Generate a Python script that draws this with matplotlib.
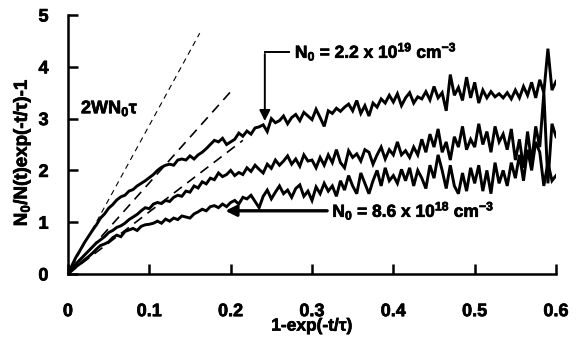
import numpy as np
import matplotlib
matplotlib.use('Agg')
from matplotlib import pyplot as plt
from matplotlib import patheffects as pe

# fonts: bold arial-like everywhere
plt.rcParams['font.family'] = ['Liberation Sans', 'DejaVu Sans']
plt.rcParams['font.weight'] = 'bold'
plt.rcParams['mathtext.fontset'] = 'custom'
plt.rcParams['mathtext.rm'] = 'Liberation Sans:bold'
plt.rcParams['mathtext.it'] = 'Liberation Sans:bold'
plt.rcParams['mathtext.bf'] = 'Liberation Sans:bold'

# x values, every 0.005 from 0 to 0.6
x_vals = [round(0.005 * i, 3) for i in range(121)]

# N0 = 2.2e19 (upper curve)
y_high = [0.00, 0.17, 0.33, 0.46, 0.60, 0.72, 0.84, 0.95, 1.08, 1.16,
          1.27, 1.34, 1.43, 1.49, 1.52, 1.60, 1.63, 1.70, 1.75, 1.80,
          1.86, 1.92, 2.00, 2.06, 2.10, 2.12, 2.10, 2.20, 2.22, 2.20,
          2.28, 2.22, 2.30, 2.35, 2.42, 2.50, 2.58, 2.55, 2.62, 2.50,
          2.55, 2.60, 2.72, 2.66, 2.76, 2.70, 2.82, 2.84, 2.88, 2.75,
          3.00, 2.92, 2.96, 3.05, 2.90, 3.02, 3.08, 2.96, 3.12, 3.05,
          2.98, 3.18, 3.02, 2.85, 3.15, 3.10, 3.20, 3.14, 3.22, 3.28,
          3.15, 3.35, 3.10, 3.25, 3.05, 3.30, 3.22, 3.38, 3.30, 3.45,
          3.32, 3.48, 3.25, 3.40, 3.50, 3.30, 3.42, 3.38, 3.52, 3.36,
          3.62, 3.40, 3.50, 3.15, 3.85, 3.45, 3.60, 3.35, 3.80, 3.40,
          3.70, 3.30, 3.55, 3.40, 3.52, 3.42, 3.48, 3.40, 3.50, 3.38,
          3.55, 3.40, 3.62, 3.45, 3.70, 3.40, 3.75, 3.50, 4.35, 3.55,
          3.72]

# middle curve
y_mid = [0.00, 0.10, 0.20, 0.28, 0.36, 0.44, 0.52, 0.60, 0.66, 0.72,
         0.80, 0.84, 0.90, 0.93, 0.98, 1.05, 1.10, 1.15, 1.22, 1.28,
         1.26, 1.35, 1.38, 1.36, 1.42, 1.40, 1.48, 1.52, 1.50, 1.60,
         1.58, 1.70, 1.66, 1.78, 1.74, 1.85, 1.82, 1.95, 1.88, 1.92,
         2.00, 1.90, 1.96, 1.92, 2.05, 1.98, 2.10, 2.02, 1.95, 2.12,
         2.04, 2.20, 2.10, 2.18, 2.28, 2.12, 2.22, 2.08, 2.30, 2.18,
         2.20, 2.05, 2.25, 2.10, 2.30, 2.15, 2.40, 2.15, 2.05, 2.38,
         2.25, 2.32, 2.18, 2.40, 2.35, 2.12, 2.30, 2.45, 2.22, 2.40,
         2.30, 2.55, 2.30, 2.38, 2.25, 2.45, 2.30, 2.60, 2.35, 2.70,
         2.45, 2.80, 2.35, 2.55, 2.20, 2.65, 2.45, 2.85, 2.40, 2.60,
         2.45, 2.90, 2.50, 2.75, 2.35, 2.85, 2.55, 2.70, 2.40, 2.80,
         2.20, 2.60, 2.05, 2.75, 2.15, 2.85, 2.45, 3.50, 1.75, 2.90,
         2.65]

# N0 = 8.6e18 (lower curve)
y_low = [0.00, 0.07, 0.14, 0.20, 0.27, 0.33, 0.40, 0.48, 0.55, 0.58,
         0.62, 0.70, 0.75, 0.72, 0.82, 0.85, 0.88, 0.84, 0.92, 0.95,
         0.96, 0.98, 1.02, 0.98, 1.06, 1.02, 1.08, 1.05, 1.12, 1.10,
         1.08, 1.16, 1.20, 1.25, 1.22, 1.30, 1.32, 1.28, 1.35, 1.30,
         1.38, 1.42, 1.35, 1.48, 1.45, 1.52, 1.40, 1.28, 1.50, 1.62,
         1.45, 1.58, 1.70, 1.55, 1.62, 1.48, 1.65, 1.72, 1.50, 1.60,
         1.42, 1.68, 1.55, 1.75, 1.60, 1.70, 1.50, 1.80, 1.62, 1.90,
         1.70, 1.55, 1.95, 1.75, 1.55, 1.80, 2.00, 1.70, 2.05, 1.80,
         1.90, 1.75, 2.02, 1.80, 2.05, 1.70, 2.00, 1.85, 1.65, 2.10,
         1.85, 2.30, 2.00, 1.65, 2.10, 1.70, 1.55, 1.95, 1.60, 2.05,
         1.75, 2.10, 1.60, 2.00, 1.55, 2.15, 1.75, 2.00, 1.70, 2.15,
         1.85, 2.30, 1.80, 2.40, 2.00, 2.55, 2.35, 1.70, 2.15, 1.80,
         1.90]

# dashed guide lines 2WN0tau: slope and end point
guide_slopes = [28.7, 17.6, 12.0]
guide_ends = [0.162, 0.202, 0.215]

fig = plt.figure(figsize=(5.78, 3.41), dpi=100)
ax = fig.add_axes([0.1176, 0.1965, 0.8444, 0.7595])

# slightly heavier text, like the scanned original
heavy = [pe.withStroke(linewidth=0.5, foreground='k')]

# dashed lines
for i in range(len(guide_slopes)):
    gx = np.array([0, guide_ends[i]])
    if i == 0:
        ax.plot(gx, guide_slopes[i] * gx, color='k', lw=0.8, dashes=(5, 4))
    else:
        ax.plot(gx, guide_slopes[i] * gx, color='k', lw=1.2, dashes=(6, 4))

# noisy curves
for yy in [y_high, y_mid, y_low]:
    ax.plot(x_vals, yy, color='k', lw=2.1, solid_joinstyle='miter')

# annotations
ax.plot([0.242, 0.272], [4.29, 4.29], color='k', lw=1.4)
ax.annotate('', xy=(0.242, 2.90), xytext=(0.242, 4.30),
            arrowprops=dict(arrowstyle='-|>', color='k', lw=1.4, mutation_scale=16))
ax.text(0.279, 4.29, 'N$_0$ = 2.2 x 10$^{19}$ cm$^{-3}$', fontsize=12.5,
        fontweight='bold', va='center', ha='left', path_effects=heavy)

ax.annotate('', xy=(0.19, 1.22), xytext=(0.322, 1.22),
            arrowprops=dict(arrowstyle='-|>', color='k', lw=2.4, mutation_scale=16))
ax.text(0.325, 1.22, 'N$_0$ = 8.6 x 10$^{18}$ cm$^{-3}$', fontsize=12.5,
        fontweight='bold', va='center', ha='left', path_effects=heavy)

ax.text(0.016, 3.2, '2WN$_0$τ', fontsize=13, fontweight='bold', va='center',
        ha='left', path_effects=heavy)

# axes
ax.set_xlim(0, 0.6)
ax.set_ylim(0, 5)
ax.set_xticks([0, 0.1, 0.2, 0.3, 0.4, 0.5, 0.6])
ax.set_xticklabels(['0', '0.1', '0.2', '0.3', '0.4', '0.5', '0.6'])
ax.set_yticks([0, 1, 2, 3, 4, 5])
ax.spines['top'].set_visible(False)
ax.spines['right'].set_visible(False)
ax.spines['left'].set_linewidth(1.8)
ax.spines['bottom'].set_linewidth(1.8)
ax.tick_params(axis='both', direction='in', length=7, width=1.8, labelsize=13)
ax.tick_params(axis='x', pad=21)
ax.tick_params(axis='y', pad=14)
for lab in ax.get_xticklabels() + ax.get_yticklabels():
    lab.set_fontweight('bold')
    lab.set_path_effects(heavy)

ax.set_xlabel('1-exp(-t/τ)', fontsize=12.5, fontweight='bold', path_effects=heavy)
ax.xaxis.set_label_coords(0.5, -0.172)
ax.set_ylabel('N$_0$/N(t)exp(-t/τ)-1', fontsize=13.5, fontweight='bold',
              path_effects=heavy)
ax.yaxis.set_label_coords(-0.072, 0.47)

fig.savefig('out.png', dpi=100)
